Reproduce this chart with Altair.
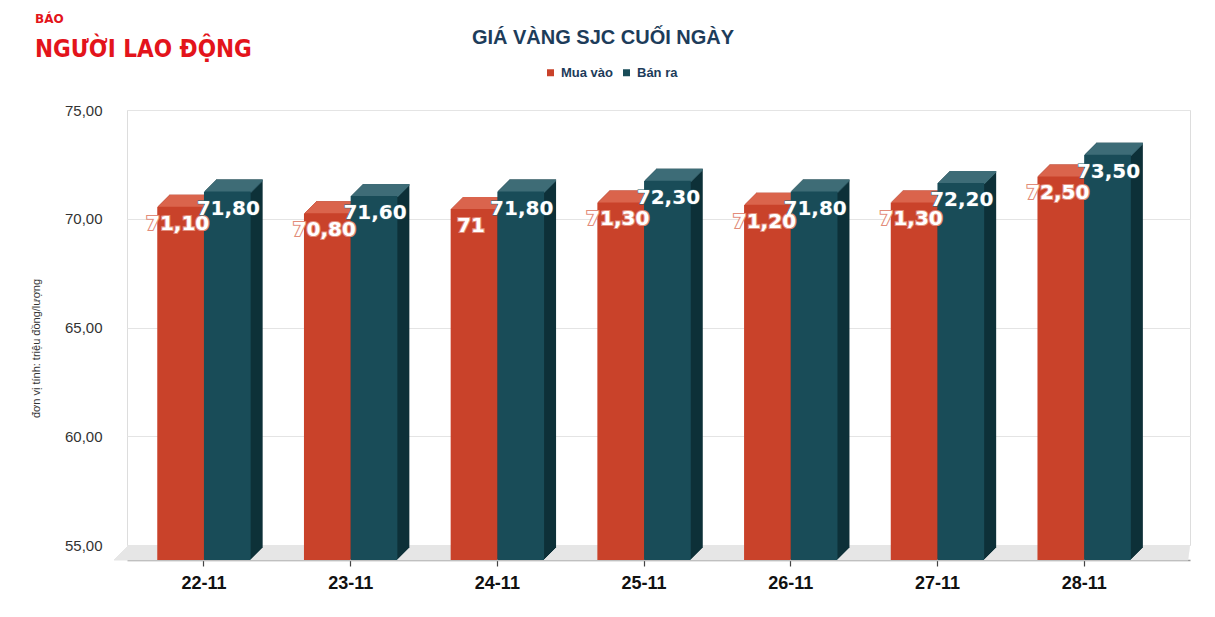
import altair as alt
import pandas as pd

# ---- data ----
dates = ["22-11", "23-11", "24-11", "25-11", "26-11", "27-11", "28-11"]
mua_vao = [71.10, 70.80, 71.00, 71.30, 71.20, 71.30, 72.50]
ban_ra = [71.80, 71.60, 71.80, 72.30, 71.80, 72.20, 73.50]
mua_vao_labels = ["71,10", "70,80", "71", "71,30", "71,20", "71,30", "72,50"]
ban_ra_labels = ["71,80", "71,60", "71,80", "72,30", "71,80", "72,20", "73,50"]
series_names = ["Mua vào", "Bán ra"]
y_ticks = [55, 60, 65, 70, 75]
title_text = "GIÁ VÀNG SJC CUỐI NGÀY"
y_title = "đơn vị tính: triệu đồng/lượng"
logo_small = "BÁO"
logo_big = "NGƯỜI LAO ĐỘNG"

rows = []
for d, v, l in zip(dates, mua_vao, mua_vao_labels):
    rows.append({"date": d, "series": series_names[0], "value": v, "label": l})
for d, v, l in zip(dates, ban_ra, ban_ra_labels):
    rows.append({"date": d, "series": series_names[1], "value": v, "label": l})
df = pd.DataFrame(rows)

# ---- styling ----
W, H = 1063, 435
DEPTH = 12      # 3D depth of bars (px)
FLOOR = 15      # depth of the floor (px)
BAR_W = 46.7
RED_FRONT, RED_TOP, RED_SIDE = "#c9422a", "#da644d", "#9c3120"
TEAL_FRONT, TEAL_TOP, TEAL_SIDE = "#194c58", "#3e6c77", "#0e3139"
NAVY = "#1d3c5a"
LOGO_RED = "#e3141b"

x_enc = alt.X(
    "date:N", sort=dates,
    scale=alt.Scale(paddingInner=0, paddingOuter=0.123, align=0.1),
    axis=alt.Axis(title=None, grid=False, offset=FLOOR, domainColor="#9a9a9a",
                  domainWidth=1.5, tickColor="#444444", tickSize=6, tickWidth=1.2,
                  labelFont="Liberation Sans", labelFontSize=18, labelFontWeight="bold",
                  labelColor="#111111", labelPadding=8, labelAngle=0),
)
y_enc = alt.Y(
    "value:Q",
    scale=alt.Scale(domain=[55, 75], nice=False, zero=False),
    axis=alt.Axis(values=y_ticks, title=y_title, titleFont="Liberation Sans",
                  titleFontSize=11, titleFontWeight="normal", titleColor="#333333",
                  titleX=-86, titleY=238, domain=False, ticks=False, tickSize=0,
                  labelPadding=25, labelFont="Liberation Sans", labelFontSize=15,
                  labelColor="#333333", gridColor="#e4e4e4", gridWidth=1,
                  labelExpr="replace(format(datum.value, '.2f'), '.', ',')"),
)
color_enc = alt.Color(
    "series:N",
    scale=alt.Scale(domain=series_names, range=[RED_FRONT, TEAL_FRONT]),
    legend=alt.Legend(title=None, orient="none", legendX=417, legendY=-44,
                      direction="horizontal", symbolType="square", symbolSize=49,
                      symbolStrokeWidth=0, labelFont="Liberation Sans",
                      labelFontSize=13, labelFontWeight="bold", labelColor=NAVY,
                      columnPadding=6, labelOffset=4, padding=0),
)

one = alt.Data(values=[{}])
layers = []

# floor (grey slab in front of the back wall)
for i in range(FLOOR):
    layers.append(
        alt.Chart(one).mark_rect(color="#e6e6e6").encode(
            x=alt.value(1 - i), x2=alt.value(W - i * 2 / FLOOR),
            y=alt.value(H + i), y2=alt.value(H + i + 1.5))
    )


def series_layers(name, base_off, top_c, side_c):
    src = alt.Chart(df).transform_filter(alt.datum.series == name)
    out = []
    for t in range(DEPTH, 0, -1):
        out.append(src.mark_bar(width=BAR_W, xOffset=base_off + t, yOffset=DEPTH - t,
                                y2Offset=FLOOR - t, color=side_c)
                   .encode(x=x_enc, y=y_enc, y2=alt.Y2(datum=55)))
    for t in range(DEPTH, 0, -1):
        out.append(src.mark_bar(width=BAR_W, xOffset=base_off + t, yOffset=DEPTH - t,
                                y2Offset=DEPTH - t + 2, color=top_c)
                   .encode(x=x_enc, y=y_enc, y2=alt.Y2("value:Q")))
    out.append(src.mark_bar(width=BAR_W, xOffset=base_off, yOffset=DEPTH, y2Offset=FLOOR)
               .encode(x=x_enc, y=y_enc, y2=alt.Y2(datum=55), color=color_enc))
    return out


layers += series_layers(series_names[0], -BAR_W / 2, RED_TOP, RED_SIDE)
layers += series_layers(series_names[1], BAR_W / 2, TEAL_TOP, TEAL_SIDE)

# data labels: outline layer then white fill layer
label_specs = [(series_names[0], -BAR_W / 2 - 3, "#e28c7a", 2.2),
               (series_names[1], BAR_W / 2 + 1, "#2a5f6b", 1.2)]
for name, off, stroke, sw in label_specs:
    src = alt.Chart(df).transform_filter(alt.datum.series == name)
    common = dict(font="DejaVu Sans", fontWeight="bold", fontSize=20, align="center",
                  baseline="middle", dx=off, dy=DEPTH + 17)
    layers.append(src.mark_text(fill=stroke, stroke=stroke, strokeWidth=sw, **common)
                  .encode(x=x_enc, y=y_enc, text="label:N"))
for name, off, stroke, sw in label_specs:
    src = alt.Chart(df).transform_filter(alt.datum.series == name)
    layers.append(src.mark_text(font="DejaVu Sans", fontWeight="bold", fontSize=20,
                                align="center", baseline="middle", dx=off,
                                dy=DEPTH + 17, fill="white")
                  .encode(x=x_enc, y=y_enc, text="label:N"))

# title
layers.append(alt.Chart(one).mark_text(font="Liberation Sans", fontWeight="bold",
                                       fontSize=20, color=NAVY, align="center",
                                       baseline="alphabetic")
              .encode(x=alt.value(476), y=alt.value(-66), text=alt.value(title_text)))

# logo
layers.append(alt.Chart(one).mark_text(font="DejaVu Sans", fontWeight="bold", fontSize=12,
                                       color=LOGO_RED, align="left", baseline="alphabetic")
              .encode(x=alt.value(-92), y=alt.value(-87), text=alt.value(logo_small)))
layers.append(alt.Chart(one).mark_text(font="DejaVu Sans Condensed, Liberation Sans",
                                       fontWeight="bold", fontSize=24, color=LOGO_RED,
                                       align="left", baseline="alphabetic")
              .encode(x=alt.value(-92), y=alt.value(-53), text=alt.value(logo_big)))

chart = (
    alt.layer(*layers)
    .properties(
        width=W, height=H,
        padding={"left": 119, "top": 102, "right": 15, "bottom": 50},
        autosize=alt.AutoSizeParams(type="none"),
    )
    .configure_view(stroke=None)
    .configure(background="white")
)

chart.save("out.html", embed_options={"renderer": "svg", "actions": False})
